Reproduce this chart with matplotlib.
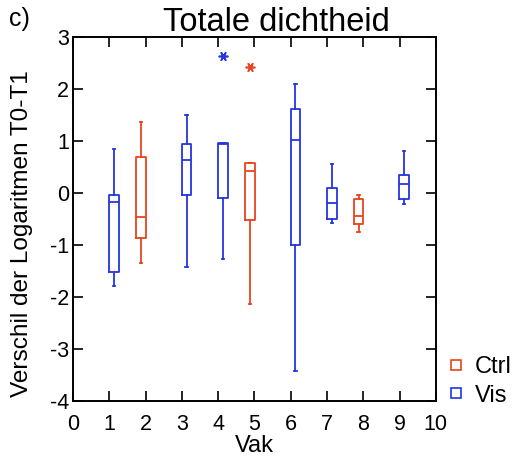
import matplotlib
matplotlib.use("Agg")
import matplotlib.pyplot as plt
from matplotlib.lines import Line2D

plt.rcParams['font.family'] = ['Liberation Sans', 'DejaVu Sans']
plt.rcParams['axes.unicode_minus'] = False

# Data
vak = [1, 2, 3, 4, 5, 6, 7, 8, 9]
group = ["Vis", "Ctrl", "Vis", "Vis", "Ctrl", "Vis", "Vis", "Ctrl", "Vis"]
whislo = [-1.78, -1.34, -1.43, -1.26, -2.13, -3.42, -0.58, -0.75, -0.22]
q1 = [-1.51, -0.86, -0.045, -0.09, -0.52, -1.00, -0.50, -0.59, -0.12]
med = [-0.17, -0.455, 0.63, 0.95, 0.42, 1.02, -0.20, -0.44, 0.18]
q3 = [-0.045, 0.70, 0.94, 0.96, 0.58, 1.62, 0.10, -0.115, 0.35]
whishi = [0.84, 1.37, 1.49, 0.96, 0.58, 2.09, 0.56, -0.03, 0.81]
outliers = [[], [], [], [2.63], [2.42], [], [], [], []]

colors = {"Ctrl": "#e8431e", "Vis": "#2535e0"}
offset = {"Ctrl": -0.13, "Vis": 0.13}

fig = plt.figure(figsize=(5.14, 4.61), dpi=100)
ax = fig.add_axes([0.142, 0.130, 0.706, 0.790])

for i in range(len(vak)):
    g = group[i]
    c = colors[g]
    st = [dict(whislo=whislo[i], q1=q1[i], med=med[i], q3=q3[i],
               whishi=whishi[i], fliers=outliers[i])]
    ax.bxp(st, positions=[vak[i] + offset[g]], widths=0.27, capwidths=0.06,
           manage_ticks=False,
           boxprops=dict(color=c, linewidth=1.3),
           medianprops=dict(color=c, linewidth=1.3),
           whiskerprops=dict(color=c, linewidth=1.3),
           capprops=dict(color=c, linewidth=1.3),
           flierprops=dict(marker=(6, 2, 90), markeredgecolor=c,
                           markerfacecolor=c, markersize=7, markeredgewidth=1.2))

ax.set_xlim(0, 10)
ax.set_ylim(-4, 3)
ax.set_xticks(range(0, 11))
ax.set_yticks(range(-4, 4))
ax.tick_params(direction='in', length=7, width=1.2, labelsize=15.5,
               top=True, right=True, pad=3)
ax.tick_params(axis='x', pad=9)
for s in ax.spines.values():
    s.set_linewidth(1.4)

ax.set_title("Totale dichtheid", fontsize=23.5, pad=4, x=0.56)
ax.set_xlabel("Vak", fontsize=17, labelpad=0)
ax.set_ylabel("Verschil der Logaritmen T0-T1", fontsize=17.6)
ax.yaxis.set_label_coords(-0.11, 0.459)

fig.text(0.018, 0.958, "c)", fontsize=18, ha='left', va='center')

handles = [Line2D([], [], linestyle='none', marker='s', markersize=6.5,
                  markerfacecolor='none', markeredgecolor=colors[k],
                  markeredgewidth=1.2, label=k) for k in ["Ctrl", "Vis"]]
fig.legend(handles=handles, loc='lower left', bbox_to_anchor=(0.874, 0.118),
           frameon=False, fontsize=17, handletextpad=0.5, handlelength=0.6,
           labelspacing=0.28, borderpad=0, borderaxespad=0)

fig.savefig("out.png", dpi=100)
